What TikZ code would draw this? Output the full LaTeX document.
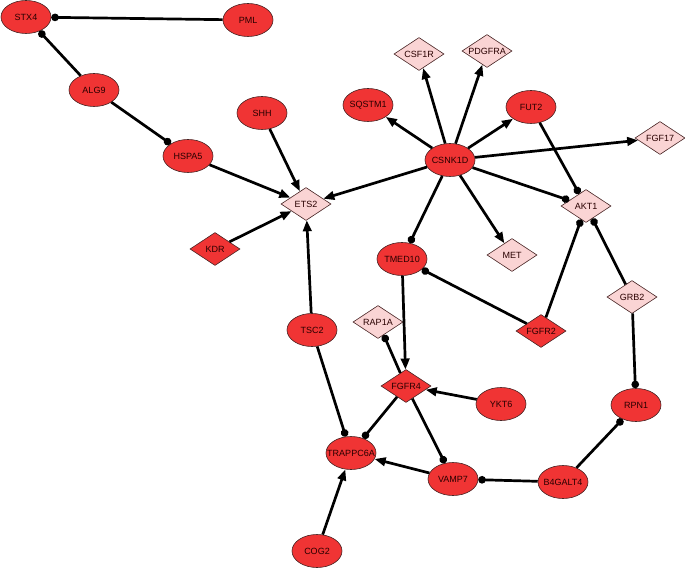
\documentclass[tikz,border=0pt]{standalone}
\usepackage{fontspec}
\setmainfont{Liberation Sans}
\usetikzlibrary{shapes.geometric,arrows.meta}
\definecolor{nodered}{RGB}{240,52,52}
\definecolor{nodepink}{RGB}{250,212,212}
\definecolor{rim}{RGB}{70,35,35}
\definecolor{gtext}{RGB}{40,0,0}
\tikzset{
  genetext/.style={font=\fontsize{9}{10}\selectfont, text=gtext, inner sep=0pt},
  genebase/.style={draw=rim, line width=0.6pt, minimum width=50pt, minimum height=33pt, inner sep=0pt},
  ell/.style={genebase, ellipse, fill=nodered, label={[genetext]center:#1}},
  diap/.style={genebase, diamond, fill=nodepink, label={[genetext]center:#1}},
  diar/.style={genebase, diamond, fill=nodered, label={[genetext]center:#1}},
  edgeline/.style={line width=2.7pt, black},
  act/.style={edgeline, -{Triangle[length=11pt,width=8.5pt]}},
  inh/.style={edgeline, -{Circle[length=7.5pt]}},
}
\begin{document}
\begin{tikzpicture}[x=1pt,y=-1pt]
\useasboundingbox (0,0) rectangle (685,569);
% nodes
\node[ell=STX4] (STX4) at (26,17) {};
\node[ell=PML] (PML) at (248,20) {};
\node[ell=ALG9] (ALG9) at (94,90) {};
\node[ell=HSPA5] (HSPA5) at (188,156) {};
\node[ell=SHH] (SHH) at (262,113) {};
\node[diap=ETS2] (ETS2) at (306,204) {};
\node[diar=KDR] (KDR) at (215,249) {};
\node[ell=TMED10] (TMED10) at (402,259) {};
\node[ell=TSC2] (TSC2) at (312,330) {};
\node[diap=RAP1A] (RAP1A) at (378,322) {};
\node[diar=FGFR4] (FGFR4) at (406,386) {};
\node[ell=CSNK1D] (CSNK1D) at (450,160) {};
\node[ell=SQSTM1] (SQSTM1) at (368,105) {};
\node[diap=CSF1R] (CSF1R) at (419,54) {};
\node[diap=PDGFRA] (PDGFRA) at (487,51) {};
\node[ell=FUT2] (FUT2) at (531,107) {};
\node[diap=FGF17] (FGF17) at (660,138) {};
\node[diap=AKT1] (AKT1) at (586,206) {};
\node[diap=MET] (MET) at (512,255) {};
\node[diap=GRB2] (GRB2) at (632,297) {};
\node[diar=FGFR2] (FGFR2) at (541,331) {};
\node[ell=YKT6] (YKT6) at (501,404) {};
\node[ell=RPN1] (RPN1) at (636,405) {};
\node[ell=TRAPPC6A] (TRAPPC6A) at (351,453) {};
\node[ell=VAMP7] (VAMP7) at (453,479) {};
\node[ell=B4GALT4] (B4GALT4) at (563,482) {};
\node[ell=COG2] (COG2) at (317,551) {};
% edges
\draw[inh] (PML) -- (STX4);
\draw[inh] (ALG9) -- (STX4);
\draw[inh] (ALG9) -- (HSPA5);
\draw[act] (HSPA5) -- (ETS2);
\draw[act] (SHH) -- (ETS2);
\draw[act] (CSNK1D) -- (ETS2);
\draw[act] (KDR) -- (ETS2);
\draw[act] (TSC2) -- (ETS2);
\draw[inh] (TSC2) -- (TRAPPC6A);
\draw[act] (CSNK1D) -- (SQSTM1);
\draw[act] (CSNK1D) -- (CSF1R);
\draw[act] (CSNK1D) -- (PDGFRA);
\draw[act] (CSNK1D) -- (FUT2);
\draw[act] (CSNK1D) -- (FGF17);
\draw[act] (CSNK1D) -- (MET);
\draw[inh] (CSNK1D) -- (AKT1);
\draw[inh] (CSNK1D) -- (TMED10);
\draw[inh] (FUT2) -- (AKT1);
\draw[inh] (FGFR2) -- (AKT1);
\draw[inh] (GRB2) -- (AKT1);
\draw[inh] (GRB2) -- (RPN1);
\draw[inh] (FGFR2) -- (TMED10);
\draw[act] (TMED10) -- (FGFR4);
\draw[inh] (FGFR4) -- (RAP1A);
\draw[act] (YKT6) -- (FGFR4);
\draw[inh] (FGFR4) -- (TRAPPC6A);
\draw[inh] (FGFR4) -- (VAMP7);
\draw[act] (VAMP7) -- (TRAPPC6A);
\draw[inh] (B4GALT4) -- (VAMP7);
\draw[inh] (B4GALT4) -- (RPN1);
\draw[act] (COG2) -- (TRAPPC6A);
\end{tikzpicture}
\end{document}
